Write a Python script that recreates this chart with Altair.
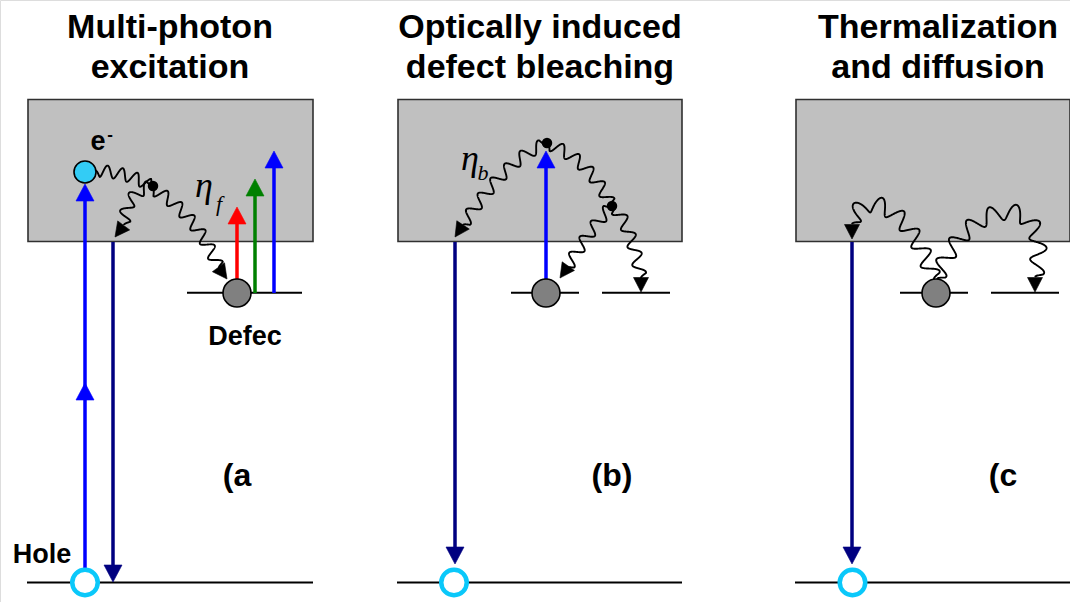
import altair as alt
import numpy as np
import pandas as pd
from math import comb

W, H = 1070, 602

BLUE = "#0000FF"
NAVY = "#000080"
RED = "#FF0000"
GREEN = "#008000"
CYAN = "#33CCF5"
RING = "#0AC8FA"

# ---- data ----
# gray conduction-band boxes
box_x1 = [28, 398, 796]
box_x2 = [313, 682, 1070]
box_y1 = [99.5, 99.5, 99.5]
box_y2 = [241.5, 241.5, 241.5]

# horizontal levels (defect levels and valence band lines)
lvl_x1 = [187, 511, 602, 900, 991, 27, 397, 795]
lvl_x2 = [302, 579, 670, 968, 1059, 313, 682, 1070]
lvl_y = [292.7, 292.7, 292.7, 292.7, 292.7, 582.5, 582.5, 582.5]

# straight transition arrows (shafts)
shaft_x = [85, 113, 237, 255, 274, 455, 546, 852]
shaft_y1 = [568, 242, 279, 293, 293, 242, 279, 242]
shaft_y2 = [194, 570, 217, 189, 161, 552, 162, 552]
shaft_col = [BLUE, NAVY, RED, GREEN, BLUE, NAVY, BLUE, NAVY]

# straight arrow heads (tip positions, +1 = pointing down, -1 = up)
head_x = [85, 85, 113, 237, 255, 274, 455, 546, 852]
head_y = [184, 383, 582, 207, 179, 151, 564, 151, 564]
head_dir = [-1, -1, 1, -1, -1, -1, 1, -1, 1]
head_col = [BLUE, BLUE, NAVY, RED, GREEN, BLUE, NAVY, BLUE, NAVY]

# wavy (phonon / relaxation) paths: Bezier control points
wave_ctrl = [
    [(96, 171), (124, 171), (152, 186)],
    [(152, 186), (126, 192), (124, 225)],
    [(153, 189), (195, 212), (219, 268)],
    [(545, 144), (505, 160), (463, 225)],
    [(548, 144), (588, 158), (611, 205)],
    [(611, 207), (592, 226), (567, 268)],
    [(614, 207), (632, 228), (641, 278)],
    [(934, 279), (905, 195), (858, 190), (852, 224)],
    [(937, 279), (965, 195), (1058, 185), (1035, 277)],
]
wave_cycles = [4, 3, 6, 6, 5, 4, 4, 6, 8]
wave_amp = [6, 6, 6, 6, 6, 6, 6, 8, 8]
wave_tip = [None, (115, 237), (227, 279), (455, 237), None, (560, 278),
            (641, 292), (852, 239), (1035, 292)]

# circles
defect_x = [237, 546, 936]
defect_y = [293, 293, 293]
dot_x = [153, 547, 612]
dot_y = [186, 143, 206]
hole_x = [85, 454, 852.5]
hole_y = [582.5, 582.5, 582.5]
elec_x = [85]
elec_y = [172]

# texts
title_txt = ["Multi-photon", "excitation", "Optically induced",
             "defect bleaching", "Thermalization", "and diffusion"]
title_x = [170, 170, 540, 540, 938, 938]
title_y = [38, 78, 38, 78, 38, 78]

label_txt = ["(a", "(b)", "(c"]
label_x = [237, 612, 1003]
label_y = [486, 486, 486]

small_txt = ["Defec", "Hole", "e"]
small_x = [245, 42, 98]
small_y = [345, 563, 150]

eta_x = [204, 470]
eta_y = [197, 170]
sub_txt = ["f", "b"]
sub_x = [219, 483]
sub_y = [211, 180]


# ---- shape helpers ----
def bezier(ctrl, t):
    P = np.array(ctrl, float)
    n = len(P) - 1
    out = np.zeros((len(t), 2))
    for i in range(n + 1):
        out += (comb(n, i) * (1 - t) ** (n - i) * t ** i)[:, None] * P[i]
    return out


def squiggle(ctrl, cycles, amp, n=700):
    t = np.linspace(0, 1, n)
    p = bezier(ctrl, t)
    d = np.gradient(p, axis=0)
    seg = np.sqrt((np.diff(p, axis=0) ** 2).sum(1))
    s = np.concatenate([[0], np.cumsum(seg)])
    L = s[-1]
    nrm = np.stack([-d[:, 1], d[:, 0]], 1)
    nrm /= np.linalg.norm(nrm, axis=1)[:, None]
    env = np.clip(np.minimum(s, L - s) / 4.0, 0, 1)
    off = amp * np.sin(2 * np.pi * cycles * s / L) * env
    return p + nrm * off[:, None]


def triangle(tip, d, length, hw):
    """Arrowhead triangle as an area band (x, upper y, lower y)."""
    tx, ty = tip
    dx, dy = d
    nn = np.hypot(dx, dy)
    dx, dy = dx / nn, dy / nn
    bx, by = tx - dx * length, ty - dy * length
    nx, ny = -dy, dx
    pts = sorted([(tx, ty), (bx + nx * hw, by + ny * hw), (bx - nx * hw, by - ny * hw)])
    (x0, y0), (x1, y1), (x2, y2) = pts
    ye = y0 + (y2 - y0) * (x1 - x0) / max(x2 - x0, 1e-6)
    return [(x0, y0, y0), (x1, y1, ye), (x2, y2, y2)]


wave_rows = []
tri_rows = []
for k, (c, cy, a, tip) in enumerate(zip(wave_ctrl, wave_cycles, wave_amp, wave_tip)):
    pts = squiggle(c, cy, a)
    for j, (px, py) in enumerate(pts):
        wave_rows.append({"id": k, "o": j, "x": px, "y": py})
    if tip is not None:
        bx, by = c[-1]
        for (px, py, py2) in triangle(tip, (tip[0] - bx, tip[1] - by), 14.5, 7.5):
            tri_rows.append({"id": f"w{k}", "x": px, "y": py, "y2": py2, "c": "black"})

for k, (hx, hy, hd, hc) in enumerate(zip(head_x, head_y, head_dir, head_col)):
    for (px, py, py2) in triangle((hx, hy), (0, hd), 17, 9):
        tri_rows.append({"id": f"h{k}", "x": px, "y": py, "y2": py2, "c": hc})

waves = pd.DataFrame(wave_rows)
tris = pd.DataFrame(tri_rows)

xs = alt.Scale(domain=[0, W], nice=False, zero=False)
ys = alt.Scale(domain=[0, H], nice=False, zero=False, reverse=True)


def X(f="x"):
    return alt.X(f"{f}:Q", scale=xs, axis=None)


def Y(f="y"):
    return alt.Y(f"{f}:Q", scale=ys, axis=None, stack=None)


boxes = alt.Chart(pd.DataFrame({"x": box_x1, "x2": box_x2, "y": box_y1, "y2": box_y2})).mark_rect(
    fill="#C0C0C0", stroke="#303030", strokeWidth=1.6
).encode(x=X(), x2="x2:Q", y=Y(), y2="y2:Q")

levels = alt.Chart(pd.DataFrame({"x": lvl_x1, "x2": lvl_x2, "y": lvl_y})).mark_rule(
    color="black", strokeWidth=2
).encode(x=X(), x2="x2:Q", y=Y())

wav = alt.Chart(waves).mark_line(color="black", strokeWidth=1.9, strokeJoin="round").encode(
    x=X(), y=Y(), detail="id:N", order="o:Q"
)

shafts = alt.Chart(pd.DataFrame({"x": shaft_x, "y": shaft_y1, "y2": shaft_y2, "c": shaft_col})).mark_rule(
    strokeWidth=3.5
).encode(x=X(), y=Y(), y2="y2:Q", color=alt.Color("c:N", scale=None))

heads = alt.Chart(tris).mark_area(opacity=1, strokeWidth=0.6).encode(
    x=X(), y=Y(), y2="y2:Q", detail="id:N",
    color=alt.Color("c:N", scale=None), stroke=alt.Stroke("c:N", scale=None)
)

defects = alt.Chart(pd.DataFrame({"x": defect_x, "y": defect_y})).mark_point(
    shape="circle", filled=True, fill="#808080", stroke="black", strokeWidth=1.6, opacity=1, size=784
).encode(x=X(), y=Y())

dots = alt.Chart(pd.DataFrame({"x": dot_x, "y": dot_y})).mark_point(
    shape="circle", filled=True, color="black", opacity=1, size=110
).encode(x=X(), y=Y())

electron = alt.Chart(pd.DataFrame({"x": elec_x, "y": elec_y})).mark_point(
    shape="circle", filled=True, fill=CYAN, stroke="black", strokeWidth=1.6, opacity=1, size=484
).encode(x=X(), y=Y())

holes = alt.Chart(pd.DataFrame({"x": hole_x, "y": hole_y})).mark_point(
    shape="circle", filled=True, fill="white", stroke=RING, strokeWidth=4.5, opacity=1, size=650
).encode(x=X(), y=Y())

titles = alt.Chart(pd.DataFrame({"x": title_x, "y": title_y, "t": title_txt})).mark_text(
    font="Liberation Sans", fontWeight="bold", fontSize=34, align="center", baseline="alphabetic", color="black"
).encode(x=X(), y=Y(), text="t:N")

labels = alt.Chart(pd.DataFrame({"x": label_x, "y": label_y, "t": label_txt})).mark_text(
    font="Liberation Sans", fontWeight="bold", fontSize=32, align="center", baseline="alphabetic", color="black"
).encode(x=X(), y=Y(), text="t:N")

smalls = alt.Chart(pd.DataFrame({"x": small_x, "y": small_y, "t": small_txt})).mark_text(
    font="Liberation Sans", fontWeight="bold", fontSize=27, align="center", baseline="alphabetic", color="black"
).encode(x=X(), y=Y(), text="t:N")

sup = alt.Chart(pd.DataFrame({"x": [110], "y": [140], "t": ["-"]})).mark_text(
    font="Liberation Sans", fontWeight="bold", fontSize=17, align="center", baseline="alphabetic", color="black"
).encode(x=X(), y=Y(), text="t:N")

etas = alt.Chart(pd.DataFrame({"x": eta_x, "y": eta_y, "t": ["η", "η"]})).mark_text(
    font="Liberation Serif", fontStyle="italic", fontSize=36, align="center", baseline="alphabetic", color="black"
).encode(x=X(), y=Y(), text="t:N")

subs = alt.Chart(pd.DataFrame({"x": sub_x, "y": sub_y, "t": sub_txt})).mark_text(
    font="Liberation Serif", fontStyle="italic", fontSize=22, align="center", baseline="alphabetic", color="black"
).encode(x=X(), y=Y(), text="t:N")

chart = alt.layer(
    boxes, levels, wav, shafts, heads, defects, dots, electron, holes,
    titles, labels, smalls, sup, etas, subs
).properties(
    width=W, height=H, padding=0, autosize=alt.AutoSizeParams(type="none")
).configure_view(stroke=None).configure(background="white")

chart.save("out.html", embed_options={"renderer": "svg", "actions": False})
